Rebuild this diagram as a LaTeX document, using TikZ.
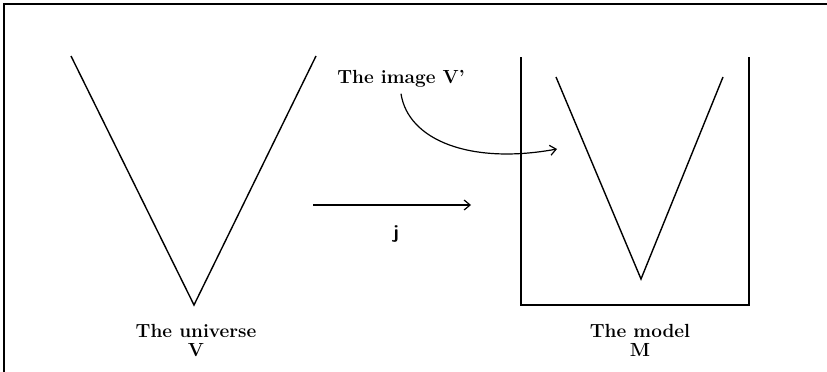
\documentclass[tikz,border=0pt]{standalone}
\usepackage{fontspec}
\usepackage{tikz}
\usetikzlibrary{positioning,arrows.meta}

\begin{document}
\begin{tikzpicture}[x=1pt, y=-1pt, line join=miter,
  lbl/.style={font=\fontsize{19}{19}\selectfont\bfseries\addfontfeature{LetterSpace=6}, inner sep=1pt, align=center},
  vee/.style={draw=black, line width=1.4pt},
  frm/.style={draw=black, line width=2.4pt},
  arr/.style={-{Straight Barb[length=6pt, width=10pt]}, draw=black, line width=1.2pt}]
\useasboundingbox (0,0) rectangle (827,372);
% outer frame, open to the right and below
\draw[frm] (4,372) -- (4,4) -- (827,4);
% the universe
\coordinate (ul) at (71,56);
\coordinate (ub) at (194,305);
\coordinate (ur) at (316,56);
\draw[vee] (ul) -- (ub) -- (ur);
\node[lbl] (univ) at (196,340) {The universe\\V};
% the model
\draw[frm, line width=1.8pt] (521,57) -- (521,305) -- (749,305) -- (749,57);
\coordinate (ml) at (556,77);
\coordinate (mb) at (641,279);
\coordinate (mr) at (723,77);
\draw[vee] (ml) -- (mb) -- (mr);
\node[lbl] (model) at (640,340) {The model\\M};
% the embedding j
\coordinate (js) at (313,205);
\coordinate (je) at (471,205);
\draw[arr] (js) -- (je);
\node[lbl, font=\fontsize{19}{19}\selectfont\sffamily\bfseries] (jlab) at (396,234) {j};
% the image V'
\node[lbl] (img) at (401,79) {The image V'};
\coordinate (ie) at (557,149);
\draw[arr] ([yshift=-5pt]img.south) .. controls (408,140) and (470,165) .. (ie);
\end{tikzpicture}
\end{document}
